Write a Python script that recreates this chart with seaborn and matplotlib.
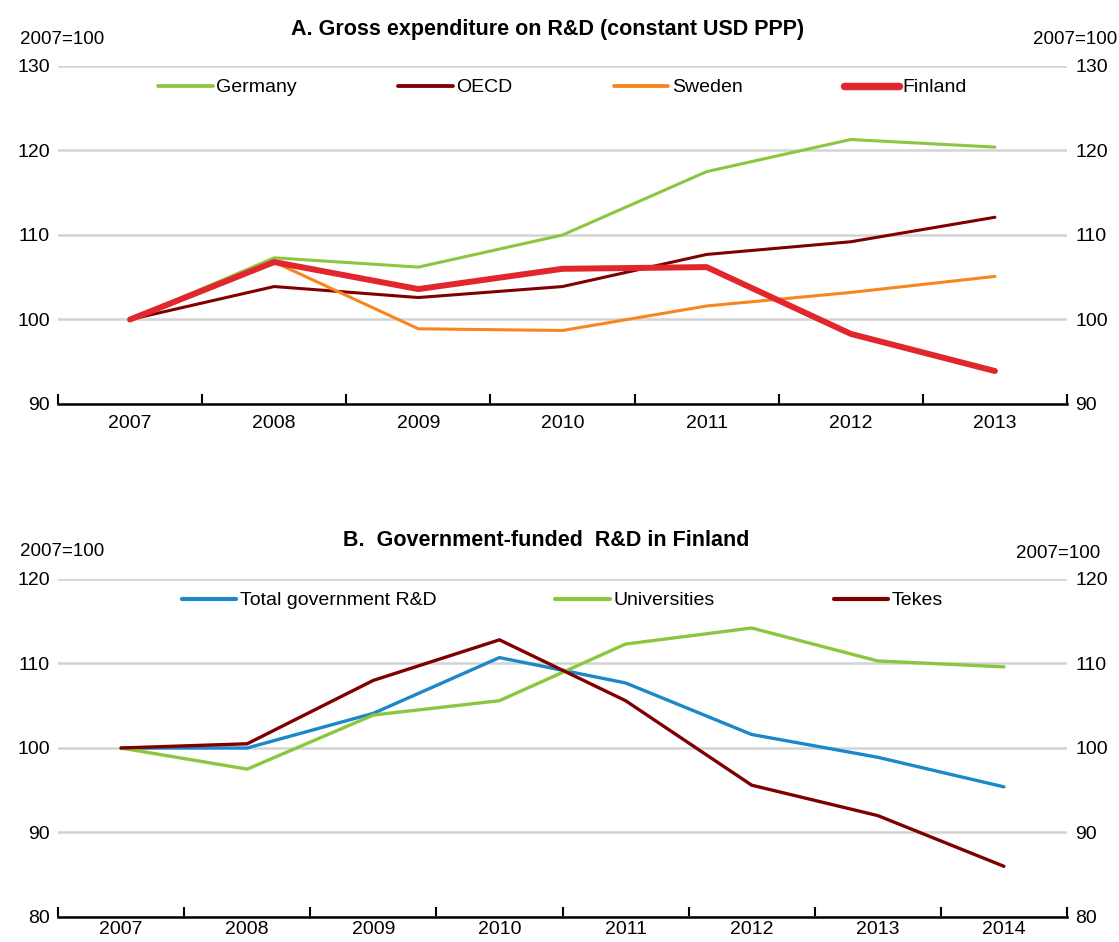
import numpy as np
import pandas as pd
import matplotlib
matplotlib.use("Agg")
import matplotlib.pyplot as plt
from matplotlib.lines import Line2D
from matplotlib.ticker import FixedLocator
import seaborn as sns

# --- data ---
years_a = [2007, 2008, 2009, 2010, 2011, 2012, 2013]
germany = [100, 107.3, 106.2, 110.0, 117.5, 121.3, 120.4]
oecd = [100, 103.9, 102.6, 103.9, 107.7, 109.2, 112.1]
sweden = [100, 106.8, 98.9, 98.7, 101.6, 103.2, 105.1]
finland = [100, 106.8, 103.6, 106.0, 106.2, 98.3, 93.9]

years_b = [2007, 2008, 2009, 2010, 2011, 2012, 2013, 2014]
total_gov = [100, 100.0, 104.1, 110.7, 107.7, 101.6, 98.9, 95.4]
universities = [100, 97.5, 103.9, 105.6, 112.3, 114.2, 110.3, 109.6]
tekes = [100, 100.5, 108.0, 112.8, 105.6, 95.6, 92.0, 86.0]

names_a = ["Germany", "OECD", "Sweden", "Finland"]
names_b = ["Total government R&D", "Universities", "Tekes"]

colors = {"Germany": "#8cc63f", "OECD": "#800000", "Sweden": "#f7861e",
          "Finland": "#e1262d", "Total government R&D": "#1c87c9",
          "Universities": "#8cc63f", "Tekes": "#800000"}
widths = {"Germany": 2.2, "OECD": 2.2, "Sweden": 2.2, "Finland": 4.3,
          "Total government R&D": 2.4, "Universities": 2.4, "Tekes": 2.4}


def long_form(years, series):
    rows = []
    for name, vals in series.items():
        for i, (yr, v) in enumerate(zip(years, vals)):
            rows.append({"pos": i, "year": yr, "series": name, "value": v})
    return pd.DataFrame(rows)


df_a = long_form(years_a, dict(zip(names_a, [germany, oecd, sweden, finland])))
df_b = long_form(years_b, dict(zip(names_b, [total_gov, universities, tekes])))

sns.set_theme(style="white")
plt.rcParams["font.family"] = ["Liberation Sans Narrow", "Liberation Sans", "DejaVu Sans"]
plt.rcParams["text.color"] = "black"
plt.rcParams["xtick.color"] = "black"
plt.rcParams["ytick.color"] = "black"

W, H = 1119, 942
fig = plt.figure(figsize=(W / 100, H / 100), dpi=100)


def px_axes(x0, y0, x1, y1):
    return fig.add_axes([x0 / W, 1 - y1 / H, (x1 - x0) / W, (y1 - y0) / H])


def style_panel(ax, df, names, years, ylim, yticks, colsp, xpad):
    # Finland (thick red) ends up on top, as in the original
    for name in names:
        sub = df[df["series"] == name]
        sns.lineplot(data=sub, x="pos", y="value", color=colors[name],
                     linewidth=widths[name], ax=ax, legend=False,
                     solid_capstyle="round", solid_joinstyle="round")
    n = len(years)
    ax.set_xlim(-0.5, n - 0.5)
    ax.set_ylim(*ylim)
    ax.set_xticks(range(n))
    ax.set_xticklabels([str(y) for y in years])
    ax.xaxis.set_minor_locator(FixedLocator(np.arange(-0.5, n, 1.0)))
    ax.tick_params(axis="x", which="major", length=0, pad=xpad, labelsize=14)
    ax.tick_params(axis="x", which="minor", direction="in", length=7,
                   width=1.5, color="black", bottom=True)
    ax.set_yticks(yticks)
    ax.tick_params(axis="y", length=0, labelsize=14, labelleft=True,
                   labelright=True, pad=6)
    ax.set_xlabel("")
    ax.set_ylabel("")
    for s in ["top", "left", "right"]:
        ax.spines[s].set_visible(False)
    ax.spines["bottom"].set_color("black")
    ax.spines["bottom"].set_linewidth(1.8)
    ax.grid(True, axis="y", color="#d4d4d4", linewidth=1.8)
    ax.set_axisbelow(True)
    handles = [Line2D([0], [0], color=colors[nm], linewidth=widths[nm] * 1.25)
               for nm in names]
    ax.legend(handles, names, loc="upper center", bbox_to_anchor=(0.5, 0.985),
              ncol=len(names), frameon=False, fontsize=14, handlelength=2.8,
              handletextpad=0.2, columnspacing=colsp, borderaxespad=0)


ax_a = px_axes(58, 66, 1067, 404)
style_panel(ax_a, df_a, names_a, years_a, (90, 130), [90, 100, 110, 120, 130], 5.2, 8)

ax_b = px_axes(58, 579, 1067, 917)
style_panel(ax_b, df_b, names_b, years_b, (80, 120), [80, 90, 100, 110, 120], 6.1, 3)

fig.text(548 / W, 1 - 30 / H, "A. Gross expenditure on R&D (constant USD PPP)",
         ha="center", va="center", fontsize=15.5, fontweight="bold")
fig.text(546 / W, 1 - 541 / H, "B.  Government-funded  R&D in Finland",
         ha="center", va="center", fontsize=15.5, fontweight="bold")

for (x, y) in [(62, 40), (1075, 40), (62, 551), (1058, 553)]:
    fig.text(x / W, 1 - y / H, "2007=100", ha="center", va="center", fontsize=13.5)

fig.savefig("out.png", dpi=100)
